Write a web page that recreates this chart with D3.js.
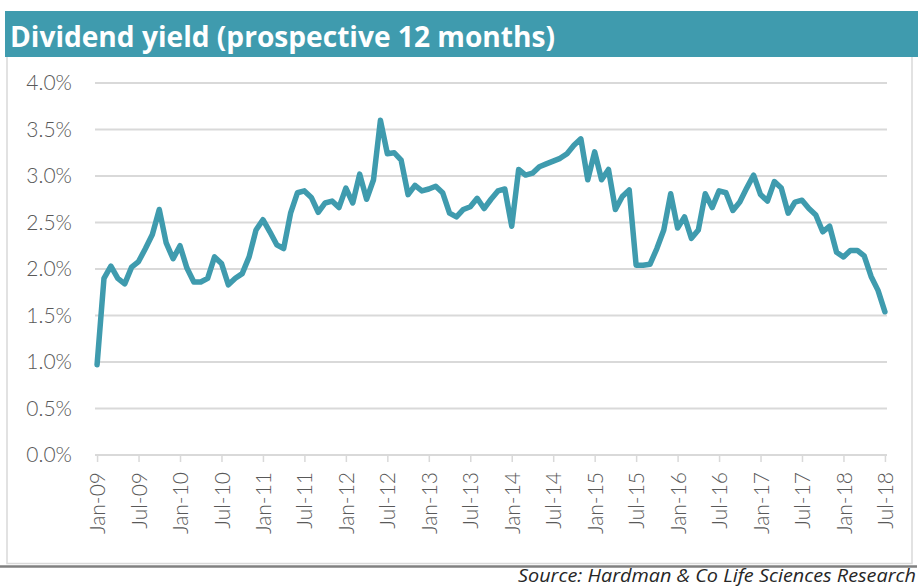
<!DOCTYPE html>
<html>
<head>
<meta charset="utf-8">
<script src="https://cdn.jsdelivr.net/npm/d3@7"></script>
<style>
  body { margin: 0; background: #fff; }
  svg { display: block; }
</style>
</head>
<body>
<div id="main"></div>
<script>
// chart data: monthly prospective dividend yield (%), Jan-09 .. Jul-18
const startMonth = new Date(2009, 0, 1);
const yieldValues = [
  0.97, 1.90, 2.03, 1.90, 1.84, 2.02, 2.08, 2.22, 2.37, 2.64, 2.28, 2.11,
  2.25, 2.01, 1.86, 1.86, 1.90, 2.13, 2.06, 1.83, 1.90, 1.95, 2.13, 2.42,
  2.53, 2.40, 2.26, 2.22, 2.60, 2.82, 2.84, 2.77, 2.61, 2.71, 2.73, 2.66,
  2.87, 2.71, 3.02, 2.75, 2.96, 3.60, 3.24, 3.25, 3.17, 2.80, 2.90, 2.84,
  2.86, 2.89, 2.82, 2.60, 2.56, 2.64, 2.67, 2.76, 2.65, 2.75, 2.84, 2.86,
  2.46, 3.07, 3.01, 3.03, 3.10, 3.13, 3.16, 3.19, 3.24, 3.33, 3.40, 2.96,
  3.26, 2.96, 3.07, 2.64, 2.78, 2.85, 2.04, 2.04, 2.05, 2.22, 2.42, 2.81,
  2.44, 2.56, 2.33, 2.42, 2.81, 2.66, 2.84, 2.82, 2.63, 2.72, 2.87, 3.01,
  2.80, 2.73, 2.94, 2.87, 2.60, 2.72, 2.74, 2.65, 2.58, 2.40, 2.46, 2.18,
  2.13, 2.20, 2.20, 2.14, 1.92, 1.77, 1.54
];
const yTicks = [0, 0.5, 1.0, 1.5, 2.0, 2.5, 3.0, 3.5, 4.0];
const xTickStep = 6; // a label every six months
const titleText = 'Dividend yield (prospective 12 months)';
const sourceText = 'Source: Hardman & Co Life Sciences Research';

function main() {
  const width = 920, height = 586;
  const svg = d3.select('#main').append('svg')
    .attr('width', width)
    .attr('height', height);

  // title bar
  svg.append('rect')
    .attr('x', 5).attr('y', 11)
    .attr('width', 913).attr('height', 46)
    .attr('fill', '#3f9bae');
  svg.append('text')
    .attr('x', 10).attr('y', 47)
    .attr('textLength', 545)
    .attr('lengthAdjust', 'spacingAndGlyphs')
    .style('font-family', '"Open Sans", sans-serif')
    .style('font-weight', 700)
    .style('font-size', '29px')
    .style('fill', '#fff')
    .text(titleText);

  // frame around the chart area
  const frame = svg.append('g')
    .attr('fill', 'none')
    .attr('stroke', '#d9d9d9')
    .attr('stroke-width', 1.5);
  frame.append('path').attr('d', 'M7,57V563.5H912V57');
  svg.append('line')
    .attr('x1', 0).attr('x2', 917)
    .attr('y1', 566.5).attr('y2', 566.5)
    .attr('stroke', '#808080')
    .attr('stroke-width', 2.5);

  // scales
  const x = d3.scaleLinear()
    .domain([-0.3, yieldValues.length - 1 + 0.3])
    .range([95, 887]);
  const y = d3.scaleLinear()
    .domain([0, 4])
    .range([455, 83]);

  const fmtPct = d3.format('.1f');
  const fmtMonth = d3.timeFormat('%b-%y');

  // horizontal gridlines
  svg.append('g')
    .selectAll('line')
    .data(yTicks.filter(d => d > 0))
    .join('line')
    .attr('x1', 95).attr('x2', 887)
    .attr('y1', d => y(d)).attr('y2', d => y(d))
    .attr('stroke', '#d9d9d9')
    .attr('stroke-width', 2);

  // y axis labels
  const yAxis = svg.append('g')
    .attr('transform', 'translate(80,0)')
    .call(d3.axisLeft(y).tickValues(yTicks).tickSize(0).tickPadding(8)
      .tickFormat(d => `${fmtPct(d)}%`));
  yAxis.select('.domain').remove();
  yAxis.selectAll('text')
    .style('font-family', 'Lato, sans-serif')
    .style('font-weight', 300)
    .style('font-size', '21px')
    .style('fill', '#595959');

  // x axis with rotated month labels
  const xTickVals = d3.range(0, yieldValues.length, xTickStep);
  const xAxis = svg.append('g')
    .attr('transform', 'translate(0,455)')
    .call(d3.axisBottom(x).tickValues(xTickVals).tickSize(7).tickSizeOuter(0)
      .tickFormat(i => fmtMonth(d3.timeMonth.offset(startMonth, i))));
  xAxis.select('.domain')
    .attr('d', 'M95,0H887')
    .attr('stroke', '#d9d9d9')
    .attr('stroke-width', 2);
  xAxis.selectAll('.tick line')
    .attr('stroke', '#d9d9d9')
    .attr('stroke-width', 1.5);
  xAxis.selectAll('text')
    .attr('transform', 'rotate(-90)')
    .attr('text-anchor', 'end')
    .attr('x', -17)
    .attr('y', 0)
    .attr('dy', '0.36em')
    .style('font-family', 'Lato, sans-serif')
    .style('font-weight', 300)
    .style('font-size', '21px')
    .style('fill', '#595959');

  // the yield line
  const line = d3.line()
    .x((d, i) => x(i))
    .y(d => y(d));
  svg.append('path')
    .datum(yieldValues)
    .attr('d', line)
    .attr('fill', 'none')
    .attr('stroke', '#3f9bae')
    .attr('stroke-width', 5.5)
    .attr('stroke-linejoin', 'round')
    .attr('stroke-linecap', 'round');

  // source note
  svg.append('text')
    .attr('x', 916).attr('y', 582)
    .attr('text-anchor', 'end')
    .attr('textLength', 398)
    .attr('lengthAdjust', 'spacingAndGlyphs')
    .style('font-family', '"Open Sans", sans-serif')
    .style('font-style', 'italic')
    .style('font-size', '18px')
    .style('fill', '#262626')
    .text(sourceText);
}

document.addEventListener('DOMContentLoaded', main);
</script>
</body>
</html>
